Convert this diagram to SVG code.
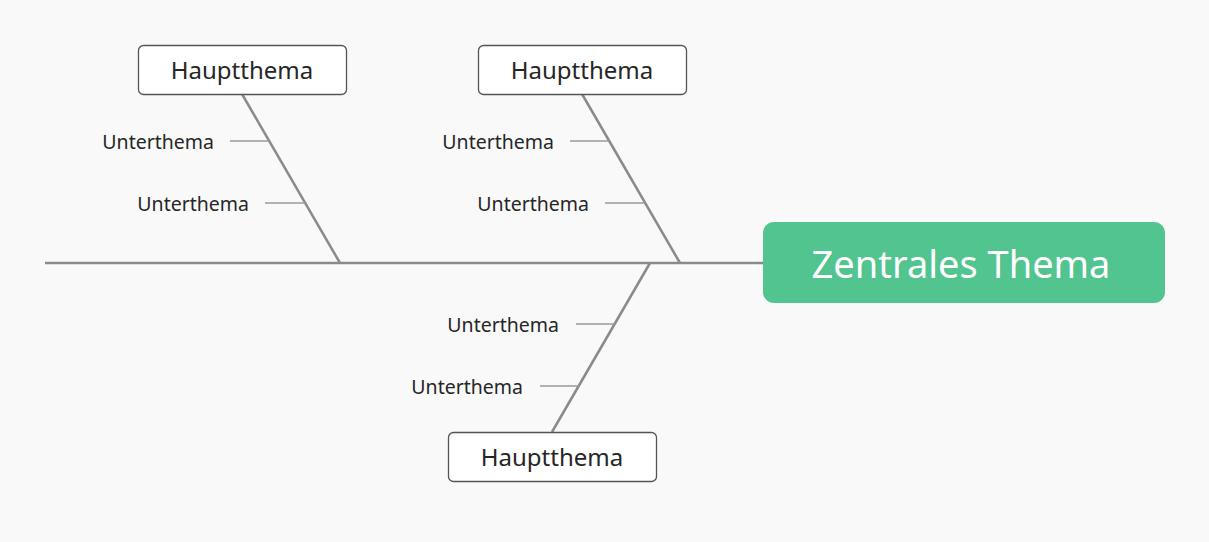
<svg xmlns="http://www.w3.org/2000/svg" width="1209" height="542" viewBox="0 0 1209 542">
<style>
.bg{fill:#f9f9f9}
.line{stroke:#8a8a8a;stroke-width:2.5;fill:none}
.sub{stroke:#9a9a9a;stroke-width:1.5;fill:none}
.main rect{fill:#ffffff;stroke:#555555;stroke-width:1.3}
.main text{font-family:"Noto Sans","Open Sans",sans-serif;font-size:24px;fill:#262626;text-anchor:middle}
.lbl{font-family:"Noto Sans","Open Sans",sans-serif;font-size:19.5px;fill:#262626;text-anchor:end}
.center rect{fill:#52c48f}
.center text{font-family:"Noto Sans","Open Sans",sans-serif;font-size:38px;fill:#ffffff;text-anchor:middle}
</style>
<rect class="bg" x="0" y="0" width="1209" height="542"/>
<g id="connectors">
<line class="line" x1="45" y1="263" x2="764" y2="263"/>
<line class="line" x1="242" y1="94" x2="340" y2="263"/>
<line class="line" x1="582" y1="94" x2="680" y2="263"/>
<line class="line" x1="552" y1="432" x2="650" y2="263"/>
<line class="sub" x1="230" y1="141" x2="269" y2="141"/>
<line class="sub" x1="265" y1="203" x2="305" y2="203"/>
<line class="sub" x1="570" y1="141" x2="609" y2="141"/>
<line class="sub" x1="605" y1="203" x2="645" y2="203"/>
<line class="sub" x1="576" y1="324" x2="615" y2="324"/>
<line class="sub" x1="540" y1="386" x2="579" y2="386"/>
</g>
<g id="center" class="center">
<rect x="763" y="222" width="402" height="81" rx="11"/>
<text x="961" y="278">Zentrales Thema</text>
</g>
<g id="main1" class="main">
<rect x="138.5" y="45.5" width="208" height="49" rx="5"/>
<text x="242" y="79">Hauptthema</text>
</g>
<g id="main2" class="main">
<rect x="478.5" y="45.5" width="208" height="49" rx="5"/>
<text x="582" y="79">Hauptthema</text>
</g>
<g id="main3" class="main">
<rect x="448.5" y="432.5" width="208" height="49" rx="5"/>
<text x="552" y="466">Hauptthema</text>
</g>
<g id="sub1a"><text class="lbl" x="214" y="149">Unterthema</text></g>
<g id="sub1b"><text class="lbl" x="249" y="211">Unterthema</text></g>
<g id="sub2a"><text class="lbl" x="554" y="149">Unterthema</text></g>
<g id="sub2b"><text class="lbl" x="589" y="211">Unterthema</text></g>
<g id="sub3a"><text class="lbl" x="559" y="332">Unterthema</text></g>
<g id="sub3b"><text class="lbl" x="523" y="394">Unterthema</text></g>
</svg>
